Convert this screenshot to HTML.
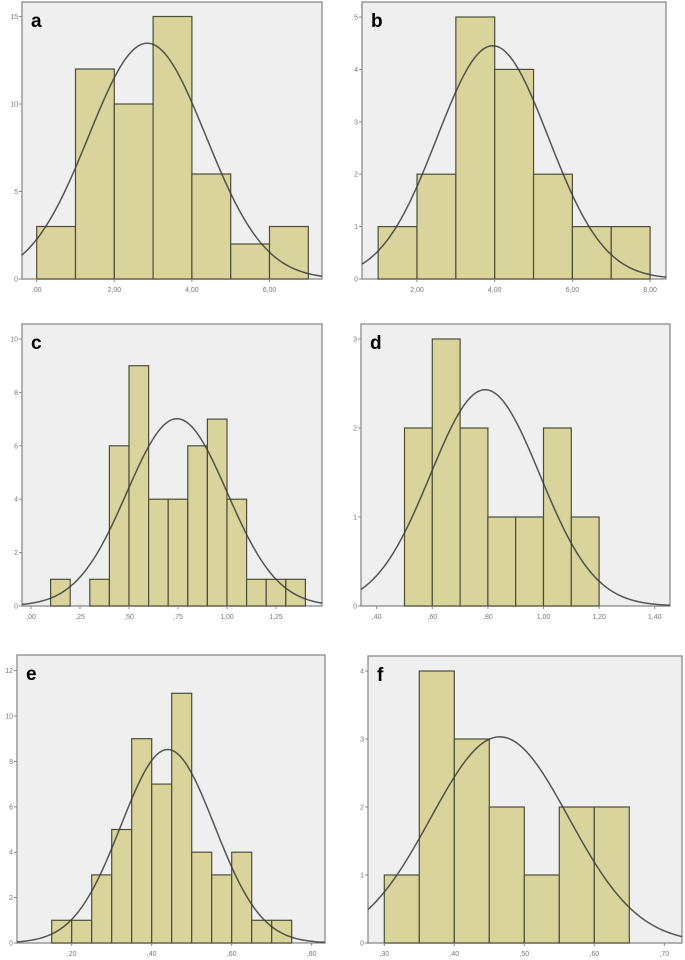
<!DOCTYPE html>
<html><head><meta charset="utf-8"><style>
html,body{margin:0;padding:0;background:#fff;}
svg{display:block;font-family:"Liberation Sans",sans-serif;}
</style></head><body>
<svg id="chart" width="685" height="960" viewBox="0 0 685 960"></svg>
<script>
// Panel data (counts per bin)
const aBins = [0,1,2,3,4,5,6,7];
const aCounts = [3,12,10,15,6,2,3];
const aXTicks = [0,2,4,6];
const aXLabels = [",00","2,00","4,00","6,00"];
const aYTicks = [0,5,10,15];
const aMean = 2.85, aSd = 1.51;

const bBins = [1,2,3,4,5,6,7,8];
const bCounts = [1,2,5,4,2,1,1];
const bXTicks = [2,4,6,8];
const bXLabels = ["2,00","4,00","6,00","8,00"];
const bYTicks = [0,1,2,3,4,5];
const bMean = 3.95, bSd = 1.434;

const cBins = [0.1,0.2,0.3,0.4,0.5,0.6,0.7,0.8,0.9,1.0,1.1,1.2,1.3,1.4];
const cCounts = [1,0,1,6,9,4,4,6,7,4,1,1,1];
const cXTicks = [0,0.25,0.5,0.75,1.0,1.25];
const cXLabels = [",00",",25",",50",",75","1,00","1,25"];
const cYTicks = [0,2,4,6,8,10];
const cMean = 0.745, cSd = 0.256;

const dBins = [0.5,0.6,0.7,0.8,0.9,1.0,1.1,1.2];
const dCounts = [2,3,2,1,1,2,1];
const dXTicks = [0.4,0.6,0.8,1.0,1.2,1.4];
const dXLabels = [",40",",60",",80","1,00","1,20","1,40"];
const dYTicks = [0,1,2,3];
const dMean = 0.79, dSd = 0.197;

const eBins = [0.15,0.2,0.25,0.3,0.35,0.4,0.45,0.5,0.55,0.6,0.65,0.7,0.75];
const eCounts = [1,1,3,5,9,7,11,4,3,4,1,1];
const eXTicks = [0.2,0.4,0.6,0.8];
const eXLabels = [",20",",40",",60",",80"];
const eYTicks = [0,2,4,6,8,10,12];
const eMean = 0.44, eSd = 0.117;

const fBins = [0.3,0.35,0.4,0.45,0.5,0.55,0.6,0.65];
const fCounts = [1,4,3,2,1,2,2];
const fXTicks = [0.3,0.4,0.5,0.6,0.7];
const fXLabels = [",30",",40",",50",",60",",70"];
const fYTicks = [0,1,2,3,4];
const fMean = 0.465, fSd = 0.0987;

const NS = "http://www.w3.org/2000/svg";
const svg = document.getElementById("chart");
function mk(tag, attrs, parent){
  const e = document.createElementNS(NS, tag);
  for (const k in attrs) e.setAttribute(k, attrs[k]);
  (parent||svg).appendChild(e);
  return e;
}

// layout: frame box + two calibration points per axis
function panel(id, L, bins, counts, xTicks, xLabels, yTicks, mean, sd){
  const g = mk("g", {});
  
  
  const xs = (L.xp1 - L.xp0) / (L.xv1 - L.xv0);
  const X = v => L.xp0 + (v - L.xv0) * xs;
  const Y = v => L.y0 - v * L.ys;
  const fr = mk("rect", {x:L.x0, y:L.top, width:L.x1-L.x0, height:L.y0-L.top, fill:"#efefef", stroke:"#8a8a8a", "stroke-width":1.3}, g);
  
  
  // bars
  for (let i=0;i<counts.length;i++){
    if (!counts[i]) continue;
    const r = mk("rect", {x:X(bins[i]), y:Y(counts[i]), width:X(bins[i+1])-X(bins[i]), height:Y(0)-Y(counts[i]), fill:"#d8d49c", stroke:"#4e4e38", "stroke-width":1.2}, g);
    
    
  }
  // normal curve
  const N = counts.reduce((a,b)=>a+b,0);
  const bw = bins[1]-bins[0];
  let d = "";
  const v0 = L.xv0 + (L.x0 - L.xp0)/xs, v1 = L.xv0 + (L.x1 - L.xp0)/xs;
  for (let k=0;k<=200;k++){
    const v = v0 + (v1-v0)*k/200;
    const y = N*bw/(sd*Math.sqrt(2*Math.PI))*Math.exp(-0.5*((v-mean)/sd)**2);
    d += (k?"L":"M") + X(v).toFixed(2) + "," + Y(y).toFixed(2);
  }
  const c = mk("path", {d:d, fill:"none", stroke:"#3a3a3a", "stroke-width":1.5, opacity:0.85}, g);
  
  
  // y ticks
  yTicks.forEach(t=>{
    mk("line", {x1:L.x0-3, x2:L.x0, y1:Y(t), y2:Y(t), stroke:"#888", "stroke-width":1}, g);
    const tx = mk("text", {x:L.x0-4, y:Y(t)+2.5, "font-size":7, fill:"#777", "text-anchor":"end"}, g);
    tx.textContent = t;
    
    
  });
  // x ticks
  xTicks.forEach((t,i)=>{
    mk("line", {x1:X(t), x2:X(t), y1:L.y0, y2:L.y0+3, stroke:"#888", "stroke-width":1}, g);
    const tx = mk("text", {x:X(t), y:L.y0+13, "font-size":7, fill:"#777", "text-anchor":"middle"}, g);
    tx.textContent = xLabels[i];
    
    
  });
  const lb = mk("text", {x:L.x0+9, y:L.top+25, "font-size":19, "font-weight":"bold", fill:"#000"}, g);
  lb.textContent = id;
  
  
}

panel("a", {x0:22,x1:322,top:2,y0:279,ys:17.5,xv0:0,xp0:36.7,xv1:2,xp1:114.3}, aBins,aCounts,aXTicks,aXLabels,aYTicks,aMean,aSd);
panel("b", {x0:362,x1:666,top:2,y0:279,ys:52.4,xv0:2,xp0:417,xv1:4,xp1:494.7}, bBins,bCounts,bXTicks,bXLabels,bYTicks,bMean,bSd);
panel("c", {x0:22,x1:322,top:324,y0:606,ys:26.7,xv0:0,xp0:31,xv1:0.25,xp1:80}, cBins,cCounts,cXTicks,cXLabels,cYTicks,cMean,cSd);
panel("d", {x0:361,x1:670,top:324,y0:606,ys:89,xv0:0.4,xp0:376.7,xv1:0.6,xp1:432.3}, dBins,dCounts,dXTicks,dXLabels,dYTicks,dMean,dSd);
panel("e", {x0:17,x1:325,top:655,y0:943,ys:22.7,xv0:0.2,xp0:71.7,xv1:0.4,xp1:151.7}, eBins,eCounts,eXTicks,eXLabels,eYTicks,eMean,eSd);
panel("f", {x0:368,x1:682,top:656,y0:943,ys:68,xv0:0.3,xp0:384.3,xv1:0.4,xp1:454.3}, fBins,fCounts,fXTicks,fXLabels,fYTicks,fMean,fSd);
</script>
</body></html>
